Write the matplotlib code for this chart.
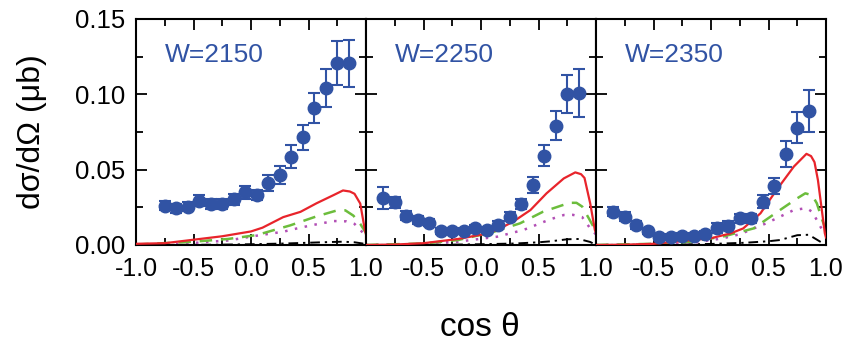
import matplotlib
matplotlib.use("Agg")
import matplotlib.pyplot as plt
from matplotlib.ticker import MultipleLocator

plt.rcParams['font.family'] = ['Liberation Sans', 'DejaVu Sans']

W_labels = ["W=2150", "W=2250", "W=2350"]

# ---- data points ----
x1 = [-0.75, -0.65, -0.55, -0.45, -0.35, -0.25, -0.15, -0.05, 0.05, 0.15, 0.25,
      0.35, 0.45, 0.55, 0.65, 0.75, 0.85]
y1 = [0.0259, 0.0243, 0.0254, 0.0294, 0.0272, 0.0272, 0.0303, 0.0350, 0.0332,
      0.0413, 0.0464, 0.0586, 0.0715, 0.0907, 0.1044, 0.1206, 0.1206]
e1 = [0.003, 0.003, 0.003, 0.0038, 0.003, 0.003, 0.0035, 0.0044, 0.0035, 0.0053,
      0.0062, 0.0075, 0.0083, 0.010, 0.0125, 0.0146, 0.0157]

x2 = [-0.85, -0.75, -0.65, -0.55, -0.45, -0.35, -0.25, -0.15, -0.05, 0.05, 0.15,
      0.25, 0.35, 0.45, 0.55, 0.65, 0.75, 0.85]
y2 = [0.0310, 0.0283, 0.0195, 0.0166, 0.0148, 0.0093, 0.0095, 0.0095, 0.0111,
      0.0100, 0.0133, 0.0188, 0.0272, 0.0398, 0.0593, 0.0792, 0.1002, 0.1011]
e2 = [0.0072, 0.0036, 0.003, 0.0025, 0.0025, 0.002, 0.002, 0.002, 0.002, 0.002,
      0.0025, 0.0032, 0.0036, 0.0051, 0.007, 0.0096, 0.0129, 0.016]

x3 = [-0.85, -0.75, -0.65, -0.55, -0.45, -0.35, -0.25, -0.15, -0.05, 0.05, 0.15,
      0.25, 0.35, 0.45, 0.55, 0.65, 0.75, 0.85]
y3 = [0.0221, 0.0188, 0.0133, 0.0095, 0.0051, 0.0051, 0.0062, 0.0060, 0.0073,
      0.0111, 0.0128, 0.0177, 0.0177, 0.0288, 0.0392, 0.0604, 0.0779, 0.0891]
e3 = [0.003, 0.0028, 0.0025, 0.002, 0.002, 0.002, 0.002, 0.002, 0.002, 0.0033,
      0.003, 0.003, 0.003, 0.0044, 0.0055, 0.0083, 0.0105, 0.0138]

# ---- model curves ----
red1_x = [-1, -0.75, -0.5, -0.25, 0, 0.1, 0.28, 0.43, 0.57, 0.72, 0.8, 0.86, 0.9, 0.95, 0.99, 1.0]
red1_y = [0.0008, 0.0012, 0.0035, 0.0058, 0.009, 0.0115, 0.0185, 0.022, 0.0277, 0.0332,
          0.0362, 0.0355, 0.0340, 0.0275, 0.0100, 0.007]
grn1_x = [-1, -0.5, -0.2, 0.05, 0.34, 0.57, 0.75, 0.82, 0.89, 0.95, 1.0]
grn1_y = [0.0003, 0.0022, 0.0040, 0.0066, 0.0130, 0.0190, 0.0230, 0.0230, 0.0195, 0.0140, 0.008]
mag1_x = [-1, -0.6, -0.2, 0.05, 0.28, 0.4, 0.54, 0.72, 0.83, 0.9, 0.95, 1.0]
mag1_y = [0, 0.0008, 0.003, 0.0062, 0.0088, 0.011, 0.0133, 0.0159, 0.0157, 0.014, 0.010, 0.006]
blk1_x = [-1, -0.3, 0.0, 0.3, 0.5, 0.7, 0.8, 0.9, 0.97, 1.0]
blk1_y = [0, 0.0002, 0.0005, 0.001, 0.0015, 0.002, 0.0022, 0.0018, 0.001, 0.0]

red2_x = [-1, -0.75, -0.5, -0.2, 0.0, 0.14, 0.28, 0.43, 0.57, 0.72, 0.82, 0.87, 0.9, 0.95, 0.99, 1.0]
red2_y = [0.0, 0.0003, 0.0012, 0.0040, 0.0068, 0.0100, 0.0155, 0.0232, 0.0343, 0.0442,
          0.0482, 0.047, 0.0445, 0.0275, 0.0100, 0.008]
grn2_x = [-1, -0.5, -0.2, 0.1, 0.34, 0.54, 0.77, 0.83, 0.88, 0.95, 1.0]
grn2_y = [0, 0.001, 0.0033, 0.0085, 0.0144, 0.0221, 0.0280, 0.0280, 0.0255, 0.016, 0.009]
mag2_x = [-1, -0.6, -0.2, 0.14, 0.37, 0.6, 0.72, 0.8, 0.88, 0.95, 1.0]
mag2_y = [0, 0.0005, 0.0022, 0.0055, 0.010, 0.017, 0.0199, 0.020, 0.0185, 0.011, 0.007]
blk2_x = [-1, -0.3, 0.0, 0.3, 0.5, 0.6, 0.75, 0.85, 0.95, 1.0]
blk2_y = [0, 0.0002, 0.0005, 0.001, 0.0018, 0.0024, 0.0038, 0.004, 0.002, 0.0]

red3_x = [-1, -0.75, -0.5, -0.2, 0.0, 0.17, 0.28, 0.43, 0.57, 0.72, 0.83, 0.87, 0.9, 0.93, 0.96, 0.99, 1.0]
red3_y = [0, 0.0002, 0.0008, 0.003, 0.0045, 0.0077, 0.011, 0.021, 0.0365, 0.052, 0.0605,
          0.059, 0.055, 0.043, 0.0254, 0.0077, 0.005]
grn3_x = [-1, -0.5, -0.2, 0.1, 0.37, 0.6, 0.75, 0.82, 0.88, 0.92, 0.97, 1.0]
grn3_y = [0, 0.0008, 0.002, 0.0055, 0.011, 0.0232, 0.031, 0.0343, 0.033, 0.0277, 0.016, 0.01]
mag3_x = [-1, -0.5, -0.2, 0.1, 0.25, 0.48, 0.72, 0.83, 0.88, 0.92, 0.96, 1.0]
mag3_y = [0, 0.0003, 0.001, 0.0044, 0.0071, 0.0144, 0.0232, 0.0245, 0.022, 0.0166, 0.011, 0.008]
blk3_x = [-1, -0.3, 0.0, 0.3, 0.5, 0.6, 0.75, 0.85, 0.95, 1.0]
blk3_y = [0, 0.0003, 0.0007, 0.0015, 0.0025, 0.0033, 0.0065, 0.0068, 0.0022, 0.0]

x_ticks = [-1.0, -0.5, 0.0, 0.5, 1.0]
x_ticklabels_first = ['-1.0', '-0.5', '0.0', '0.5', '1.0']
x_ticklabels_rest = ['', '-0.5', '0.0', '0.5', '1.0']
y_ticks = [0.0, 0.05, 0.10, 0.15]
y_ticklabels = ['0.00', '0.05', '0.10', '0.15']

panels = [
    (x1, y1, e1, (red1_x, red1_y), (grn1_x, grn1_y), (mag1_x, mag1_y), (blk1_x, blk1_y)),
    (x2, y2, e2, (red2_x, red2_y), (grn2_x, grn2_y), (mag2_x, mag2_y), (blk2_x, blk2_y)),
    (x3, y3, e3, (red3_x, red3_y), (grn3_x, grn3_y), (mag3_x, mag3_y), (blk3_x, blk3_y)),
]

BLUE = '#3153a4'
RED = '#e8242b'
GREEN = '#6cbd3c'
MAG = '#b24fb5'

FW, FH = 842, 345
fig = plt.figure(figsize=(FW / 100, FH / 100), dpi=100)
lefts = [136, 366, 596]
width = 230
bottom, top = 245, 19

for i, (px, py, pe, red, grn, mag, blk) in enumerate(panels):
    ax = fig.add_axes([lefts[i] / FW, (FH - bottom) / FH, width / FW, (bottom - top) / FH])
    ax.plot(*blk, color='black', lw=1.4, ls=(0, (5, 2.5, 1.2, 2.5)), zorder=2)
    ax.plot(*mag, color=MAG, lw=1.8, ls=(0, (1, 3)), zorder=2)
    ax.plot(*grn, color=GREEN, lw=1.8, ls=(0, (5, 3.5)), zorder=2)
    ax.plot(*red, color=RED, lw=1.6, zorder=3)
    ax.errorbar(px, py, yerr=pe, fmt='o', color=BLUE, ms=9, mec=BLUE,
                ecolor=BLUE, elinewidth=1.5, capsize=4, capthick=1.5, zorder=4,
                clip_on=False)
    ax.set_xlim(-1, 1)
    ax.set_ylim(0, 0.15)
    ax.text(-0.75, 0.1215, W_labels[i], color=BLUE, fontsize=19, ha='left',
            va='baseline')
    for s in ax.spines.values():
        s.set_linewidth(1.5)
    ax.xaxis.set_minor_locator(MultipleLocator(0.25))
    ax.yaxis.set_minor_locator(MultipleLocator(0.025))
    ax.tick_params(which='both', direction='in', top=True, right=True, width=1.3)
    ax.tick_params(which='major', length=8)
    ax.tick_params(which='minor', length=5)
    ax.tick_params(axis='x', pad=9)
    ax.tick_params(axis='y', pad=8)
    ax.set_xticks(x_ticks)
    ax.set_yticks(y_ticks)
    if i == 0:
        ax.set_xticklabels(x_ticklabels_first, fontsize=18)
        ax.set_yticklabels(y_ticklabels, fontsize=18.5)
    else:
        ax.set_xticklabels(x_ticklabels_rest, fontsize=18)
        ax.set_yticklabels([])

fig.text(32 / FW, 1 - 132 / FH, 'dσ/dΩ (μb)', rotation=90, fontsize=23,
         ha='center', va='center')
fig.text(480 / FW, 1 - 327 / FH, 'cos θ', fontsize=24, ha='center', va='center')

fig.savefig('out.png', dpi=100)
